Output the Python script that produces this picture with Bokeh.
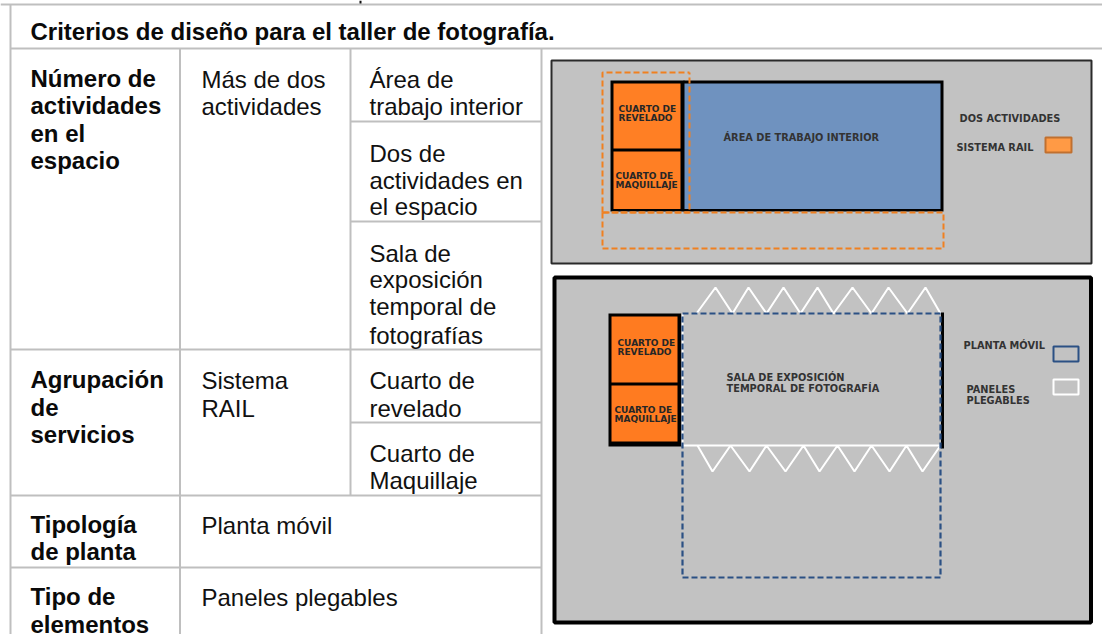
from bokeh.plotting import figure
from bokeh.embed import file_html
from bokeh.resources import INLINE
from bokeh.models import Range1d
from bokeh.core.properties import value

W, H = 1102, 634
FONT = "Liberation Sans"
LABEL_FONT = "DejaVu Sans"

# ---- table rules (x0, y0, x1, y1)
rules_h = [(0, 4, 1102, 4), (10, 48, 1102, 48), (350, 121, 541, 121), (350, 221, 541, 221),
           (10, 349, 541, 349), (350, 422, 541, 422), (10, 495, 541, 495), (10, 567, 541, 567)]
rules_v = [(10, 4, 10, 634), (179.5, 48, 179.5, 634), (350, 48, 350, 495), (541, 48, 541, 634)]
clipped_mark_x = [360, 360]
clipped_mark_y = [0, 3]

# ---- table text (x, baseline, text)
bold_x = [30, 30, 30, 30, 30, 30, 30, 30, 30, 30, 30]
bold_y = [86, 113, 141, 168, 387, 415, 442, 532, 559, 604, 632]
bold_t = ["Número de", "actividades", "en el", "espacio", "Agrupación", "de", "servicios",
          "Tipología", "de planta", "Tipo de", "elementos"]
reg_x = [201, 201, 369, 369, 369, 369, 369, 369, 369, 369, 369, 201, 201, 369, 369, 369, 369, 201, 201]
reg_y = [87, 114, 87, 114, 161, 188, 214, 261, 287, 314, 343, 388, 416, 388, 416, 461, 488, 533, 605]
reg_t = ["Más de dos", "actividades", "Área de", "trabajo interior", "Dos de", "actividades en",
         "el espacio", "Sala de", "exposición", "temporal de", "fotografías", "Sistema", "RAIL",
         "Cuarto de", "revelado", "Cuarto de", "Maquillaje", "Planta móvil", "Paneles plegables"]
title_t = "Criterios de diseño para el taller de fotografía."

# ---- panels (left, top, right, bottom)
panel1 = (551, 60, 1091, 263)
panel2 = (554, 277, 1090.5, 622)
black_rects = [(610, 80, 684, 211), (683, 80, 943, 211), (608, 313, 681, 446)]
blue_rect = (684, 83, 940, 208.5)
orange_rects = [(613, 83, 680, 148), (613, 151, 680, 208.5), (611, 316, 677, 382), (611, 385, 677, 441)]
orange_dash_x = [[602, 689, 689], [602, 602, 943, 943, 602]]
orange_dash_y = [[212, 212, 72], [212, 248, 248, 212, 212]]
orange_dash_top_x = [602, 602, 689]
orange_dash_top_y = [212, 72, 72]
blue_dash_x = [682, 940, 940, 682, 682]
blue_dash_y = [313, 313, 577, 577, 313]

zig_top_x = [696, 715, 732, 748, 766, 783, 800, 817, 833, 852, 871, 888, 907, 925, 940]
zig_top_y = [313, 287, 313, 287, 313, 287, 313, 287, 313, 287, 313, 287, 313, 287, 313]
zig_bot_x = [697, 712, 730, 749, 766, 785, 803, 819, 837, 854, 871, 889, 906, 922, 940]
zig_bot_y = [445, 471, 445, 471, 445, 471, 445, 471, 445, 471, 445, 471, 445, 471, 445]
white_x = [682, 682, 940]
white_y = [313, 445, 445]
black_bar_x = [942, 942]
black_bar_y = [312, 448]

# ---- legend swatches
swatch_orange = (1045, 137, 1071, 152)
swatch_blue = (1053, 346, 1078, 361)
swatch_white = (1053, 379, 1078, 394)

# ---- diagram labels (x, y, text)
room_x = [618, 618, 615, 615, 617, 617, 614, 614]
room_y = [108, 117, 175, 184, 342, 351, 409, 418]
room_t = ["CUARTO DE", "REVELADO", "CUARTO DE", "MAQUILLAJE", "CUARTO DE", "REVELADO", "CUARTO DE", "MAQUILLAJE"]
lab_x = [723, 959, 956, 726, 726, 963, 966, 966]
lab_y = [137, 118, 147, 377, 388, 345, 389, 400]
lab_t = ["ÁREA DE TRABAJO INTERIOR", "DOS ACTIVIDADES", "SISTEMA RAIL",
         "SALA DE EXPOSICIÓN", "TEMPORAL DE FOTOGRAFÍA", "PLANTA MÓVIL", "PANELES", "PLEGABLES"]

p = figure(width=W, height=H, x_range=Range1d(0, W), y_range=Range1d(H, 0),
           output_backend="svg", toolbar_location=None, min_border=0,
           outline_line_color=None, background_fill_color="white", border_fill_color="white")
p.xaxis.visible = False
p.yaxis.visible = False
p.xgrid.visible = False
p.ygrid.visible = False

def box(r, **kw):
    p.quad(left=[r[0]], top=[r[1]], right=[r[2]], bottom=[r[3]], **kw)

# table
RULE = "#BFBFBF"
for a in rules_h + rules_v:
    p.line([a[0], a[2]], [a[1], a[3]], line_color=RULE, line_width=2)
p.line(clipped_mark_x, clipped_mark_y, line_color="#111111", line_width=2)
p.text([30], [39], text=[title_t], text_font=value(FONT), text_font_style="bold", y_offset=-8,
       text_font_size="24px", text_color="#0a0a0a", text_baseline="alphabetic")
p.text(bold_x, bold_y, text=bold_t, text_font=value(FONT), text_font_style="bold", y_offset=-8,
       text_font_size="24px", text_color="#0a0a0a", text_baseline="alphabetic")
p.text(reg_x, reg_y, text=reg_t, text_font=value(FONT), y_offset=-8,
       text_font_size="24px", text_color="#111111", text_baseline="alphabetic")

# panel 1
box(panel1, fill_color="#C2C2C2", line_color="#2a2a2a", line_width=2)
for r in black_rects[:2]:
    box(r, fill_color="black", line_color=None)
box(blue_rect, fill_color="#6F92BF", line_color=None)
for r in orange_rects[:2]:
    box(r, fill_color="#FF7F24", line_color=None)
for xs, ys in zip(orange_dash_x, orange_dash_y):
    p.line(xs, ys, line_color="#F08020", line_width=2, line_dash="6 3")
p.line(orange_dash_top_x, orange_dash_top_y, line_color="#F08020", line_width=2, line_dash="6 3")

# panel 2
box(panel2, fill_color="#C2C2C2", line_color="black", line_width=4)
box(black_rects[2], fill_color="black", line_color=None)
for r in orange_rects[2:]:
    box(r, fill_color="#FF7B20", line_color=None)
p.line(zig_top_x, zig_top_y, line_color="white", line_width=2)
p.line(zig_bot_x, zig_bot_y, line_color="white", line_width=2)
p.line(white_x, white_y, line_color="white", line_width=2)
p.line(black_bar_x, black_bar_y, line_color="black", line_width=3)
p.line(blue_dash_x, blue_dash_y, line_color="#2B5084", line_width=2.2, line_dash="6 3")

# swatches
box(swatch_orange, fill_color="#FF9A45", line_color="#C07030", line_width=2)
box(swatch_blue, fill_color="#C2C2C2", line_color="#2B5084", line_width=2)
box(swatch_white, fill_color="#C2C2C2", line_color="white", line_width=2)

# labels
p.text(room_x, room_y, text=room_t, text_font=value(LABEL_FONT), text_font_style="bold",
       text_font_size="9px", text_color="#262626", text_baseline="middle")
p.text(lab_x, lab_y, text=lab_t, text_font=value(LABEL_FONT), text_font_style="bold",
       text_font_size="9.8px", text_color="#333333", text_baseline="middle")

open("out.html", "w").write(file_html(p, INLINE))
